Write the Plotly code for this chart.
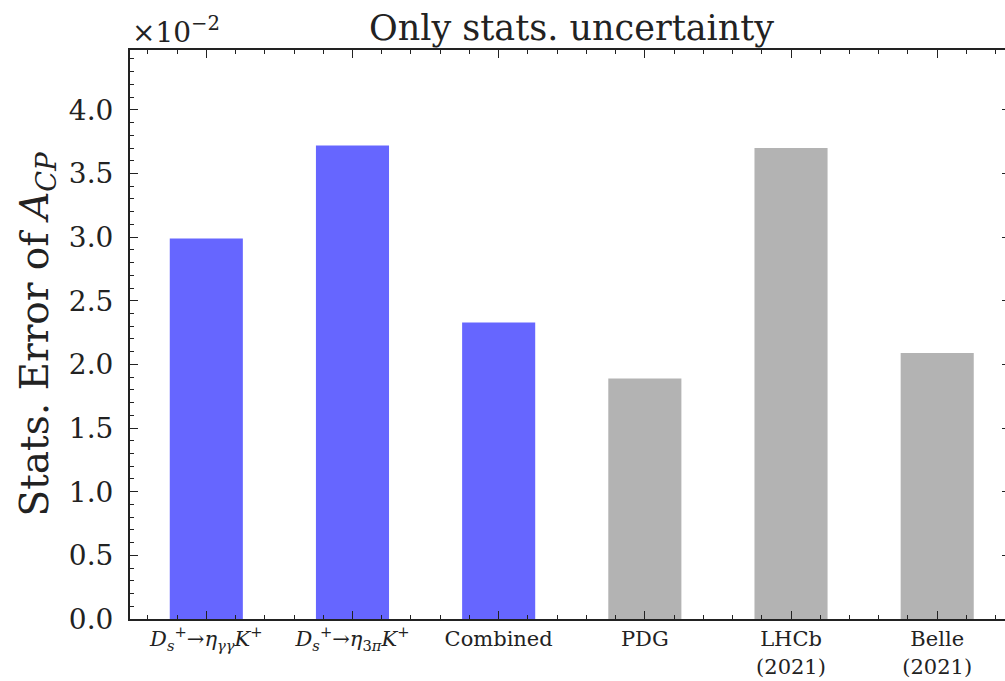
import plotly.graph_objects as go

categories = ["<i>D</i><sub><i>s</i></sub><sup>+</sup>→<i>η</i><sub><i>γγ</i></sub><i>K</i><sup>+</sup>",
              "<i>D</i><sub><i>s</i></sub><sup>+</sup>→<i>η</i><sub>3<i>π</i></sub><i>K</i><sup>+</sup>",
              "Combined", "PDG", "LHCb<br>(2021)", "Belle<br>(2021)"]
stat_errors = [0.0299, 0.0372, 0.0233, 0.0189, 0.0370, 0.0209]
bar_colors = ["#6666ff", "#6666ff", "#6666ff", "#b3b3b3", "#b3b3b3", "#b3b3b3"]
scale = 1e-2

FONT = "DejaVu Serif"
INK = "#222222"
xs = list(range(len(categories)))
fig = go.Figure()
fig.add_trace(go.Bar(x=xs, y=[v / scale for v in stat_errors], width=0.5,
                     marker=dict(color=bar_colors, line=dict(width=0))))

L, R, T, B = 130, 0, 50, 62
W, H = 1012, 681
pw = W - L - R
fig.update_layout(
    width=W, height=H,
    margin=dict(l=L, r=R, t=T, b=B),
    paper_bgcolor="white", plot_bgcolor="white",
    showlegend=False,
    font=dict(family=FONT, color=INK),
    annotations=[
        dict(text="Only stats. uncertainty", x=(573 - L) / pw, xref="paper", y=1.0, yref="paper",
             showarrow=False, yanchor="middle", yshift=22, xanchor="center",
             font=dict(size=35, family=FONT, color=INK)),
        dict(text="×10<sup>−2</sup>", x=0, xref="paper", y=1.0, yref="paper",
             showarrow=False, xanchor="left", yanchor="middle", yshift=20,
             font=dict(size=28, family=FONT, color=INK)),
    ],
)
fig.update_xaxes(
    range=[-0.522, 5.498], tickvals=xs, ticktext=categories,
    ticks="inside", ticklen=8, tickwidth=1.2, tickcolor=INK,
    minor=dict(dtick=0.2, tick0=0, ticks="inside", ticklen=4, tickwidth=1, tickcolor=INK),
    showline=True, linecolor=INK, linewidth=2, mirror="ticks",
    showgrid=False, zeroline=False,
    tickfont=dict(size=21, family=FONT, color=INK),
)
fig.update_yaxes(
    range=[0, 4.47], tickvals=[0, 0.5, 1, 1.5, 2, 2.5, 3, 3.5, 4],
    tickformat=".1f", ticklabelstandoff=9,
    ticks="inside", ticklen=8, tickwidth=1.2, tickcolor=INK,
    minor=dict(dtick=0.1, tick0=0, ticks="inside", ticklen=4, tickwidth=1, tickcolor=INK),
    showline=True, linecolor=INK, linewidth=2, mirror="ticks",
    showgrid=False, zeroline=False,
    tickfont=dict(size=28, family=FONT, color=INK),
    title=dict(text="Stats. Error of <i>A</i><sub><i>CP</i></sub>",
               font=dict(size=39, family=FONT, color=INK), standoff=8),
)
fig.write_html("out.html", config={"displayModeBar": False},
               post_script="document.body.style.margin='0';document.body.style.overflow='hidden';")
